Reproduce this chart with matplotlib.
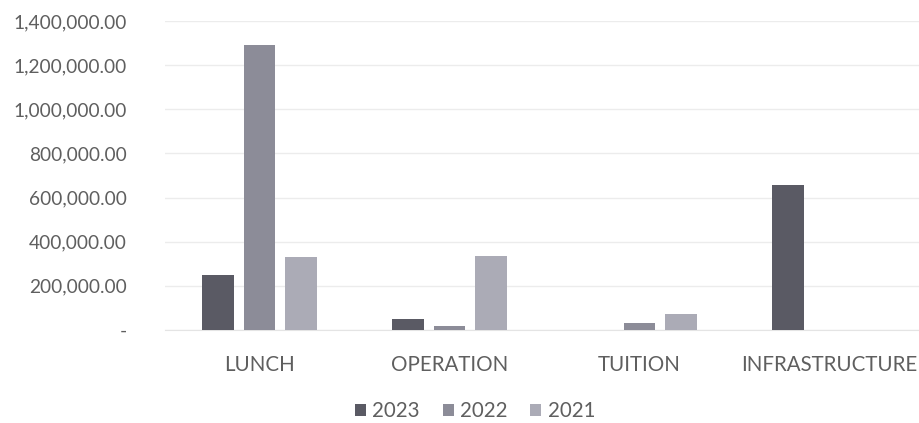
import numpy as np
import matplotlib.pyplot as plt
from matplotlib.ticker import FuncFormatter

# data
categories = ['LUNCH', 'OPERATION', 'TUITION', 'INFRASTRUCTURE']
years = ['2023', '2022', '2021']
values_2023 = [250000, 52000, 0, 655000]
values_2022 = [1292000, 16000, 30000, 0]
values_2021 = [330000, 337000, 72000, 0]

colors = ['#5a5a64', '#8c8c98', '#ababb6']
text_color = '#5f5f5f'

plt.rcParams['font.family'] = ['Lato', 'DejaVu Sans']

fig = plt.figure(figsize=(9.19, 4.23), dpi=100)
ax = fig.add_axes([164.5 / 919, 93 / 423, (919 - 164.5) / 919, 309 / 423])

x = np.arange(len(categories))
offset = 0.218
width = 0.168
series = [values_2023, values_2022, values_2021]
for i, (vals, col, lab) in enumerate(zip(series, colors, years)):
    ax.bar(x + (i - 1) * offset, vals, width, color=col, label=lab, zorder=3)

ax.set_ylim(0, 1400000)
ax.set_xlim(-0.5, 3.5 - 5.5 / 190)
ax.set_yticks(np.arange(0, 1400001, 200000))


def fmt(v, pos):
    if v == 0:
        return '-'
    return f'{v:,.2f}'


ax.yaxis.set_major_formatter(FuncFormatter(fmt))
ax.set_xticks(x)
ax.set_xticklabels(categories)

ax.grid(axis='y', color='#ececec', linewidth=1, zorder=0)
for s in ['top', 'right', 'left']:
    ax.spines[s].set_visible(False)
ax.spines['bottom'].set_color('#e4e4e4')
ax.tick_params(axis='both', length=0, colors=text_color)
ax.tick_params(axis='y', pad=27, labelsize=13.8)
ax.tick_params(axis='x', pad=18, labelsize=14.8)

ax.legend(loc='center', bbox_to_anchor=(475 / 919, 1 - 411 / 423),
          bbox_transform=fig.transFigure, ncol=3, frameon=False,
          fontsize=14.8, handlelength=0.55, handleheight=0.55,
          handletextpad=0.3, columnspacing=1.1, labelcolor=text_color,
          borderpad=0.1)

plt.savefig('out.png', dpi=100)
